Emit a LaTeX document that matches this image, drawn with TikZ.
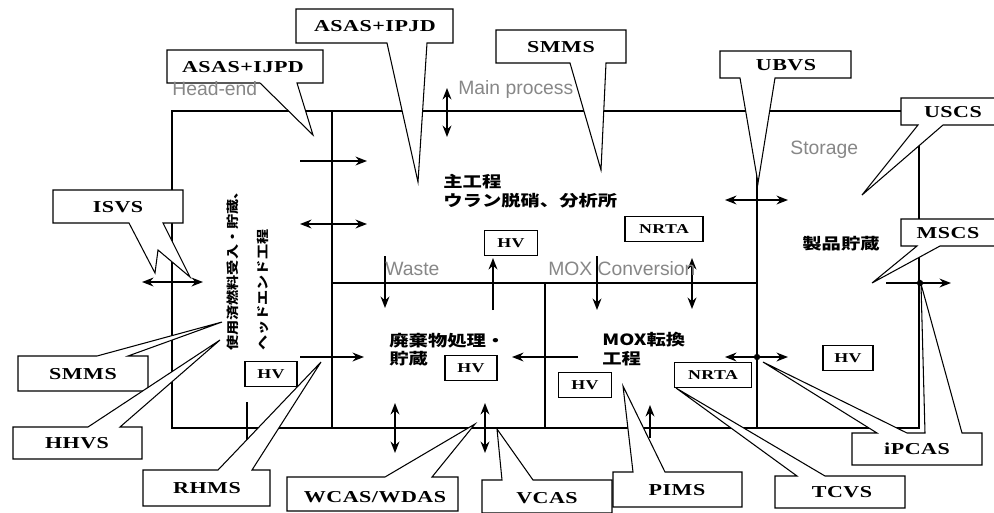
\documentclass[tikz,border=0pt]{standalone}
\usepackage{fontspec}
\setmainfont{Liberation Serif}
\newfontfamily\tagfont[FakeStretch=1.32, LetterSpace=3]{Liberation Serif}
\newfontfamily\jpfont[FakeStretch=1.25]{Noto Sans CJK JP}
\newfontfamily\jpnarrow[FakeStretch=1.23]{Noto Sans CJK JP}
\newfontfamily\labelfont{Liberation Sans}
\usetikzlibrary{arrows.meta}
\definecolor{labelgray}{RGB}{135,135,135}

\begin{document}
\begin{tikzpicture}[x=0.02cm, y=-0.02cm,
    wall/.style={line width=1.5pt},
    flow/.style={line width=1.1pt, -{Stealth[length=6.5pt, width=5pt]}},
    twoway/.style={line width=1.1pt, {Stealth[length=6.5pt, width=5pt]}-{Stealth[length=6.5pt, width=5pt]}},
    callout/.style={draw, fill=white, line width=0.6pt},
    tag/.style={inner sep=0pt, font=\tagfont\bfseries\fontsize{9.5}{11}\selectfont},
    smallbox/.style={draw, line width=0.6pt, inner sep=0pt, minimum height=5mm, font=\tagfont\bfseries\fontsize{7.7}{9}\selectfont},
    jptext/.style={inner sep=0pt, anchor=base west, font=\jpfont\bfseries\fontsize{8.8}{11}\selectfont},
    jpside/.style={inner sep=0pt, anchor=base west, rotate=90, font=\jpnarrow\bfseries\fontsize{7}{9}\selectfont},
    graylabel/.style={inner sep=0pt, anchor=base west, text=labelgray, font=\labelfont\fontsize{11}{13}\selectfont}]

    \fill[white] (0,0) rectangle (994,512);
    \useasboundingbox (0,0) rectangle (994,512);

    % Zones du procede
    \draw[wall] (172,111) rectangle (919,428);
    \draw[wall] (332,111) -- (332,428);
    \draw[wall] (332,283) -- (757,283);
    \draw[wall] (545,283) -- (545,428);
    \draw[wall] (757,111) -- (757,428);
    \draw[wall] (247,402) -- (247,440);

    % Petits cadres
    \node[smallbox, minimum width=10.4mm] (hvHead) at (271,374) {HV};
    \node[smallbox, minimum width=10.6mm] (hvMain) at (511,243) {HV};
    \node[smallbox, minimum width=10.4mm] (hvWaste) at (471,368) {HV};
    \node[smallbox, minimum width=10.6mm] (hvMox) at (585,385) {HV};
    \node[smallbox, minimum width=10mm] (hvStore) at (848,358) {HV};
    \node[smallbox, minimum width=15.6mm] (nrtaMain) at (664,229) {NRTA};
    \node[smallbox, minimum width=15.4mm] (nrtaMox) at (713,375) {NRTA};

    % Textes japonais
    \node[jptext] (mainA) at (443,187) {主工程};
    \node[jptext] (mainB) at (443,206) {ウラン脱硝、分析所};
    \node[jptext] (wasteA) at (389,346) {廃棄物処理・};
    \node[jptext] (wasteB) at (389,364) {貯蔵};
    \node[jptext] (moxA) at (602,345) {MOX転換};
    \node[jptext] (moxB) at (602,364) {工程};
    \node[jptext] (store) at (802,249) {製品貯蔵};
    \node[jpside] (headA) at (237,351) {使用済燃料受入・貯蔵、};
    \node[jpside] (headB) at (267,351) {ヘッドエンド工程};

    % Bulles
    \draw[callout] (167,50) -- (323,50) -- (323,83) -- (297,83) -- (313,135) -- (260,83) -- (167,83) -- cycle;
    \node[tag] (asasIjpd) at (243,67) {ASAS+IJPD};
    \draw[callout] (296,9) -- (453,9) -- (453,43) -- (427,43) -- (418,182) -- (387,43) -- (296,43) -- cycle;
    \node[tag] (asasIpjd) at (375,26) {ASAS+IPJD};
    \draw[callout] (496,30) -- (626,30) -- (626,63) -- (606,63) -- (601,170) -- (570,63) -- (496,63) -- cycle;
    \node[tag] (smmsTop) at (561,47) {SMMS};
    \draw[callout] (720,51) -- (851,51) -- (851,78) -- (775,78) -- (758,183) -- (740,78) -- (720,78) -- cycle;
    \node[tag] (ubvs) at (786,65) {UBVS};
    \draw[callout] (901,98) -- (998,98) -- (998,125) -- (943,125) -- (862,195) -- (918,125) -- (901,125) -- cycle;
    \node[tag] (uscs) at (953,112) {USCS};
    \draw[callout] (901,219) -- (998,219) -- (998,246) -- (940,246) -- (872,283) -- (917,246) -- (901,246) -- cycle;
    \node[tag] (mscs) at (948,233) {MSCS};
    \draw[callout] (53,190) -- (183,190) -- (183,223) -- (163,223) -- (190,277) -- (158,250) -- (155,273) -- (129,223) -- (53,223) -- cycle;
    \node[tag] (isvs) at (118,207) {ISVS};
    \draw[callout] (18,356) -- (97,356) -- (222,322) -- (128,356) -- (148,356) -- (148,391) -- (18,391) -- cycle;
    \node[tag] (smmsLeft) at (83,374) {SMMS};
    \draw[callout] (13,427) -- (88,427) -- (220,340) -- (120,427) -- (142,427) -- (142,459) -- (13,459) -- cycle;
    \node[tag] (hhvs) at (77,443) {HHVS};
    \draw[callout] (143,470) -- (218,470) -- (321,362) -- (252,470) -- (270,470) -- (270,506) -- (143,506) -- cycle;
    \node[tag] (rhms) at (207,488) {RHMS};
    \draw[callout] (287,477) -- (385,477) -- (475,424) -- (432,477) -- (458,477) -- (458,511) -- (287,511) -- cycle;
    \node[tag] (wcasWdas) at (375,497) {WCAS/WDAS};
    \draw[callout] (482,480) -- (502,480) -- (497,429) -- (533,480) -- (612,480) -- (612,513) -- (482,513) -- cycle;
    \node[tag] (vcas) at (547,498) {VCAS};
    \draw[callout] (613,472) -- (633,472) -- (623,386) -- (665,472) -- (742,472) -- (742,507) -- (613,507) -- cycle;
    \node[tag] (pims) at (677,490) {PIMS};
    \draw[callout] (775,476) -- (797,476) -- (676,388) -- (825,476) -- (905,476) -- (905,508) -- (775,508) -- cycle;
    \node[tag] (tcvs) at (842,492) {TCVS};
    \draw[callout] (852,433) -- (877,433) -- (763,362) -- (907,433) -- (925,433) -- (921,284) -- (962,433) -- (982,433) -- (982,465) -- (852,465) -- cycle;
    \node[tag] (ipcas) at (917,449) {iPCAS};

    % Flux
    \draw[flow] (300,161) -- (367,161);
    \draw[twoway] (300,224) -- (367,224);
    \draw[twoway] (447,88) -- (447,137);
    \draw[twoway] (142,282) -- (203,282);
    \draw[flow] (300,357) -- (364,357);
    \draw[flow] (385,256) -- (385,308);
    \draw[flow] (493,310) -- (493,258);
    \draw[flow] (597,256) -- (597,310);
    \draw[twoway] (692,258) -- (692,309);
    \draw[flow] (578,357) -- (512,357);
    \draw[twoway] (395,403) -- (395,453);
    \draw[twoway] (485,403) -- (485,453);
    \draw[flow] (650,438) -- (650,405);
    \draw[twoway] (725,357) -- (788,357);
    \draw[twoway] (725,200) -- (788,200);
    \draw[flow] (886,283) -- (951,283);
    \fill (757,357) circle (1.8pt);
    \fill (920,283) circle (1.8pt);

    % Libelles
    \node[graylabel] (headEnd) at (172,95) {Head-end};
    \node[graylabel] (mainProc) at (458,94) {Main process};
    \node[graylabel] (storage) at (790,154) {Storage};
    \node[graylabel] (waste) at (385,275) {Waste};
    \node[graylabel] (moxConv) at (548,275) {MOX Conversion};
\end{tikzpicture}
\end{document}
